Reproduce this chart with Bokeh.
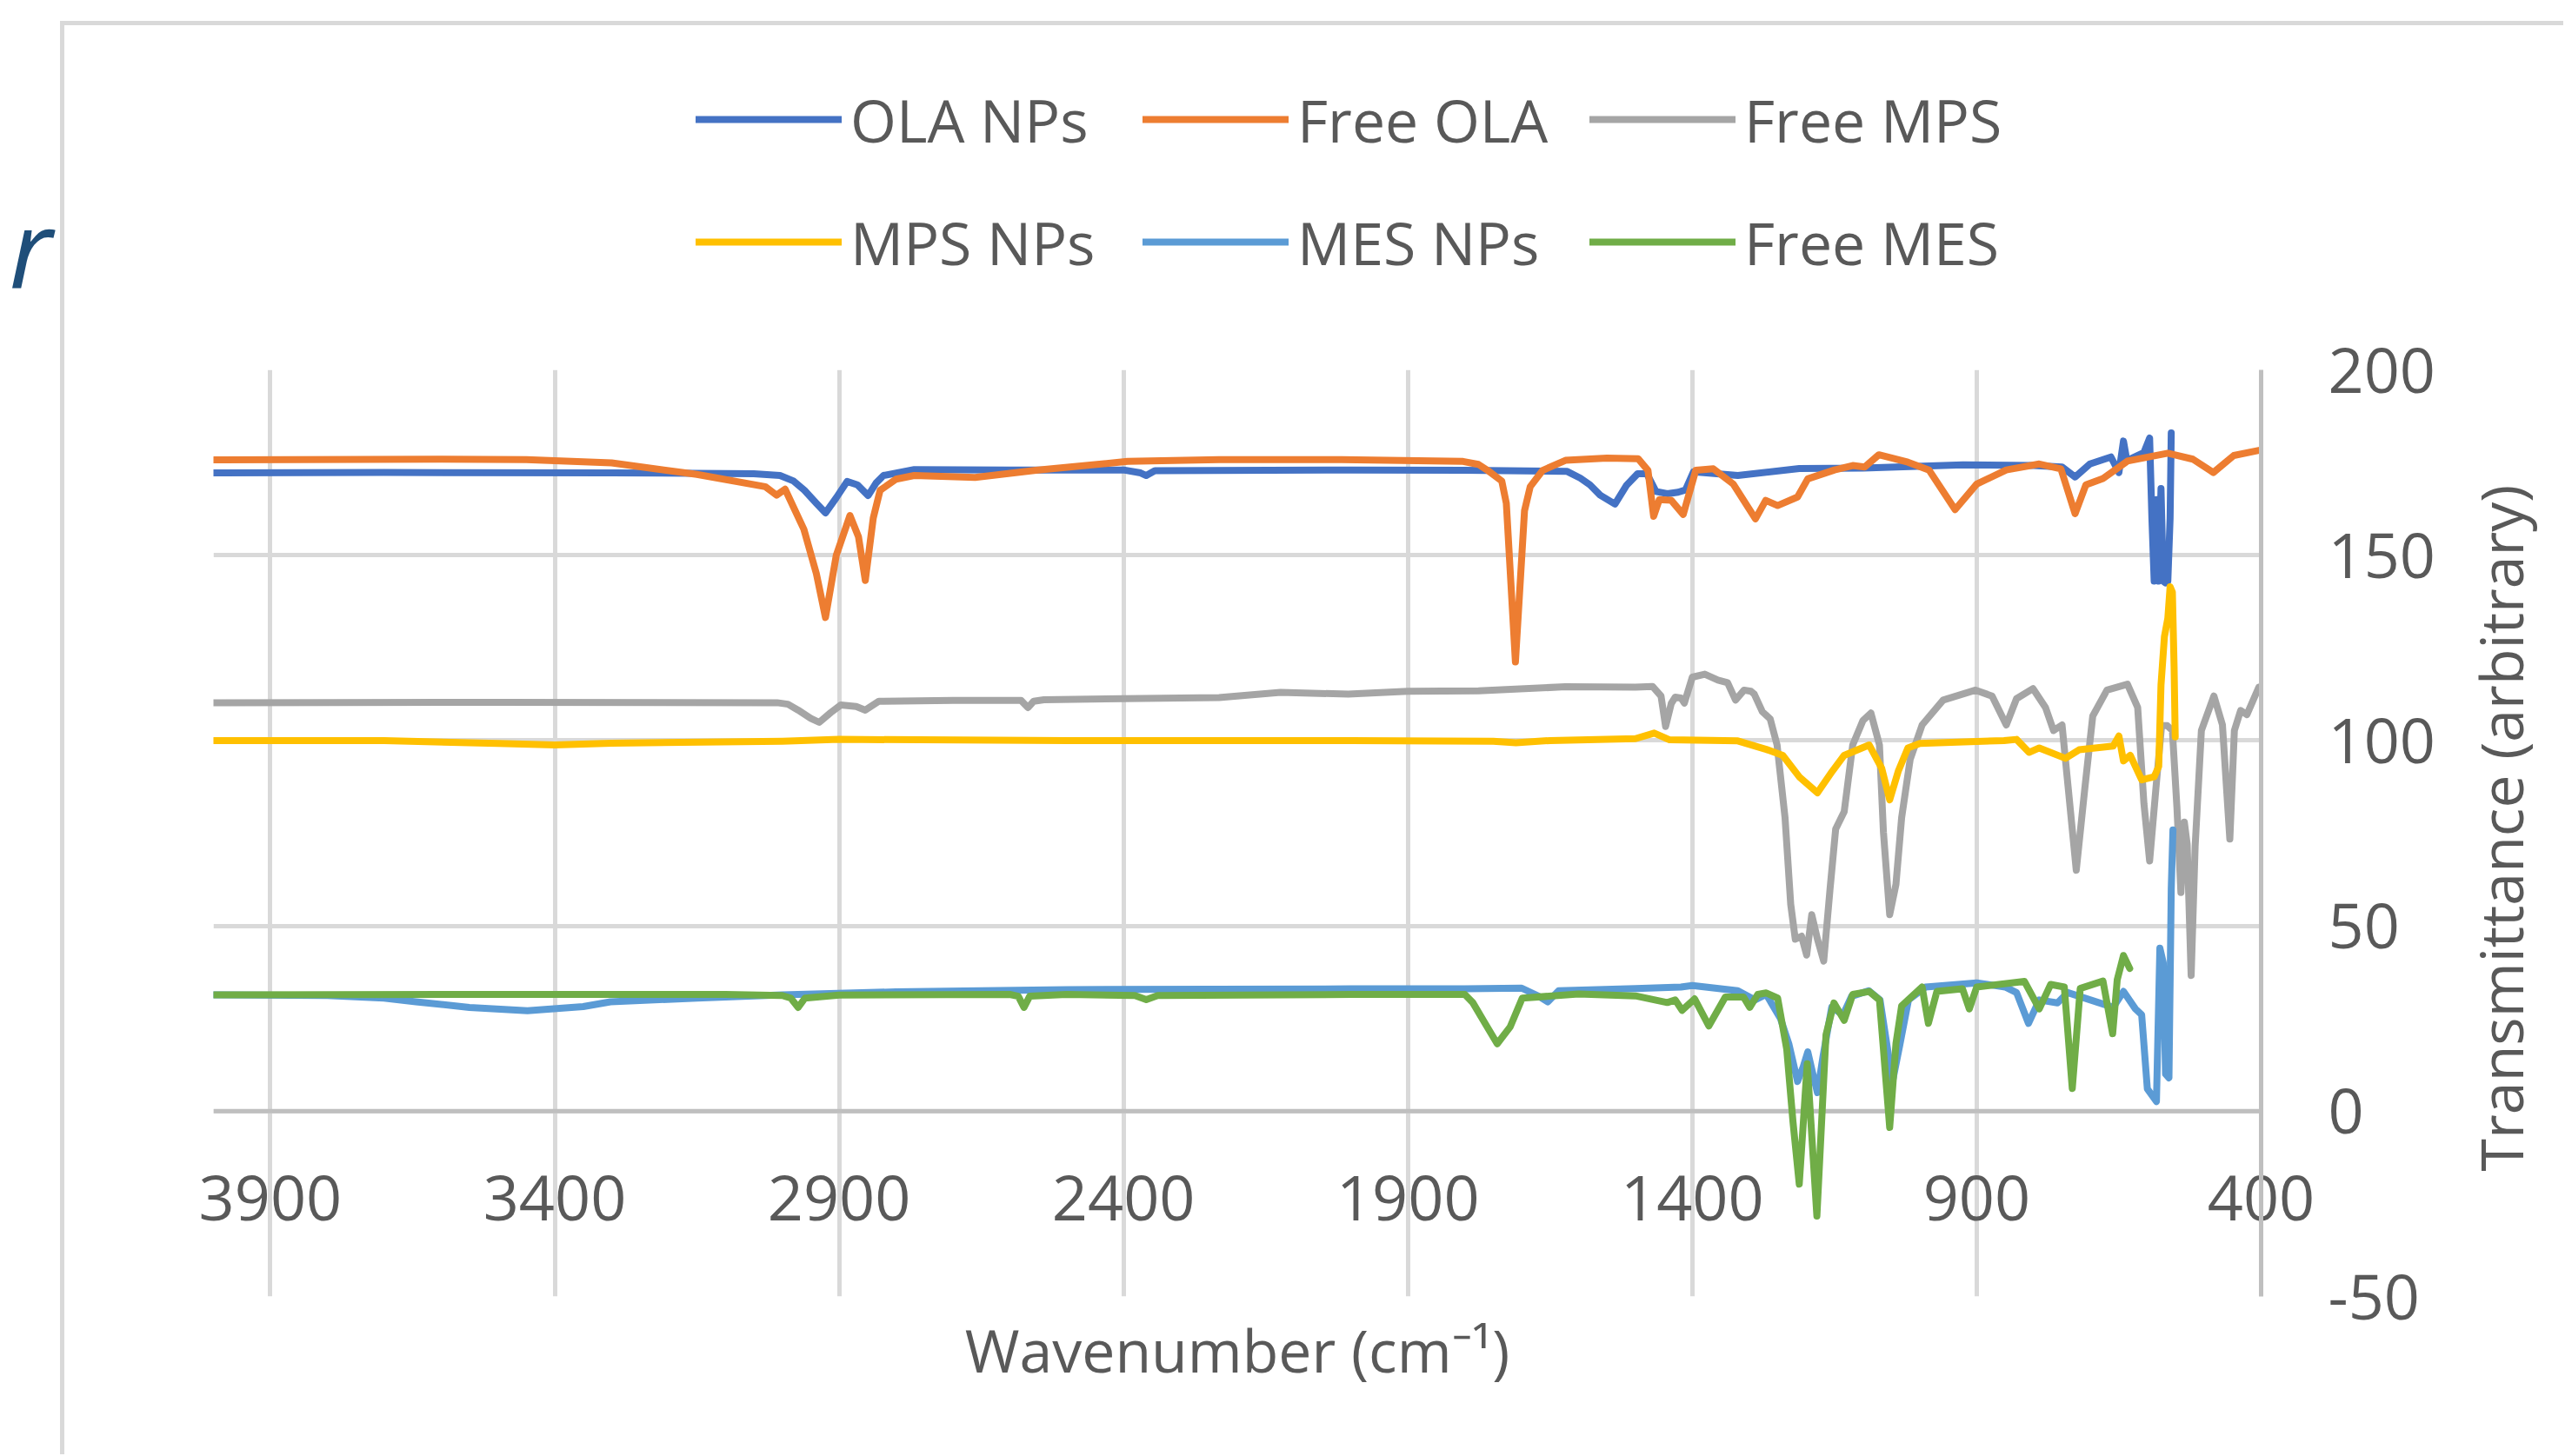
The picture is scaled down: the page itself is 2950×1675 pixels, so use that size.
import math
from bokeh.plotting import figure
from bokeh.layouts import column, row
from bokeh.models import Range1d, FixedTicker, Legend, LegendItem, Label, Span
from bokeh.embed import file_html
from bokeh.resources import INLINE

# ---------------- data ----------------
series_names = ["OLA NPs", "Free OLA", "Free MPS", "MPS NPs", "MES NPs", "Free MES"]
series_colors = ["#4472C4", "#ED7D31", "#A5A5A5", "#FFC000", "#5B9BD5", "#70AD47"]

x_ticks = [3900, 3400, 2900, 2400, 1900, 1400, 900, 400]
y_ticks = [-50, 0, 50, 100, 150, 200]

ola_nps_wn = [4000, 3700, 3300, 3050, 3004, 2980, 2961, 2940, 2924, 2905, 2886, 2868, 2849, 2835,
              2822, 2768, 2600, 2400, 2370, 2360, 2345, 2000, 1800, 1620, 1597, 1580, 1562, 1536,
              1516, 1496, 1480, 1464, 1444, 1425, 1412, 1398, 1320, 1212, 1100, 924, 800, 750, 727,
              701, 664, 650, 642, 636, 606, 596, 592, 588, 584, 580, 576, 572, 568, 564, 560, 558]
ola_nps_t = [172.2, 172.3, 172.2, 172.0, 171.5, 170.0, 167.5, 164.0, 161.4, 165.5, 169.9, 169.0,
             166.1, 169.5, 171.5, 173.1, 173.0, 173.0, 172.2, 171.5, 172.8, 173.0, 172.9, 172.6,
             170.8, 169.0, 166.2, 163.8, 168.8, 172.0, 172.0, 167.2, 166.6, 167.0, 167.6, 172.5,
             171.5, 173.4, 173.5, 174.4, 174.2, 173.8, 171.1, 174.6, 176.5, 172.3, 180.8, 175.5,
             177.7, 181.6, 160.0, 143.0, 165.0, 143.0, 168.0, 143.0, 142.5, 143.0, 160.0, 183.0]

free_ola_wn = [4000, 3600, 3450, 3300, 3150, 3030, 3010, 2995, 2962, 2940, 2924, 2905, 2881, 2866,
               2854, 2840, 2828, 2800, 2768, 2661, 2554, 2393, 2232, 2017, 1803, 1776, 1760, 1735,
               1727, 1711, 1695, 1685, 1663, 1623, 1550, 1495, 1478, 1468, 1458, 1437, 1416, 1394,
               1363, 1328, 1289, 1271, 1250, 1215, 1197, 1150, 1118, 1097, 1072, 1021, 984, 938,
               900, 848, 790, 752, 727, 708, 678, 635, 564, 520, 484, 448, 400]
free_ola_t = [175.7, 175.9, 175.8, 174.9, 171.8, 168.5, 166.2, 167.8, 157.0, 145.0, 133.2, 150.0,
              160.7, 155.0, 143.2, 160.0, 167.5, 170.5, 171.5, 171.0, 172.9, 175.3, 175.8, 175.8,
              175.3, 174.5, 172.9, 170.0, 164.0, 121.2, 162.0, 168.5, 172.9, 175.6, 176.2, 176.0,
              172.9, 160.5, 165.0, 164.8, 161.0, 172.9, 173.3, 169.2, 159.8, 164.8, 163.4, 165.7,
              170.6, 173.0, 174.2, 173.8, 177.1, 175.1, 173.0, 162.3, 169.2, 173.0, 174.6, 173.3,
              161.2, 169.0, 170.7, 175.4, 177.5, 175.9, 172.3, 176.9, 178.4]

free_mps_wn = [4000, 3500, 3009, 2990, 2972, 2950, 2935, 2915, 2897, 2870, 2854, 2830, 2700, 2580,
               2568, 2558, 2540, 2232, 2124, 2005, 1900, 1776, 1623, 1500, 1470, 1455, 1447, 1437,
               1430, 1420, 1414, 1400, 1378, 1355, 1338, 1324, 1309, 1297, 1291, 1277, 1263, 1251,
               1237, 1227, 1219, 1208, 1199, 1190, 1180, 1169, 1158, 1148, 1133, 1118, 1100, 1086,
               1071, 1064, 1053, 1042, 1032, 1017, 996, 959, 902, 873, 848, 830, 801, 779, 765, 750,
               739, 725, 710, 696, 671, 635, 617, 606, 596, 585, 575, 565, 556, 548, 541, 535, 530,
               523, 516, 505, 483, 468, 455, 447, 436, 425, 404, 400]
free_mps_t = [110.2, 110.3, 110.2, 109.8, 108.2, 106.0, 104.9, 107.5, 109.6, 109.2, 108.2, 110.6,
              110.8, 110.8, 108.9, 110.6, 111.0, 111.6, 113.0, 112.5, 113.3, 113.4, 114.5, 114.4,
              114.6, 112.0, 103.8, 110.0, 111.7, 111.5, 110.1, 117.1, 117.9, 116.3, 115.6, 110.9,
              113.6, 113.3, 112.5, 107.8, 105.8, 98.8, 79.2, 55.8, 46.4, 47.2, 42.1, 53.0, 46.4,
              40.5, 59.7, 76.1, 80.8, 98.8, 105.4, 107.4, 98.8, 75.3, 53.0, 61.2, 79.2, 94.9, 104.2,
              110.9, 113.6, 112.0, 104.2, 111.3, 114.0, 108.9, 102.7, 104.2, 87.0, 65.0, 87.0,
              106.6, 113.6, 115.2, 108.9, 83.0, 67.5, 87.0, 104.0, 104.0, 102.7, 82.0, 59.0, 78.0,
              72.0, 36.6, 71.4, 102.7, 112.0, 104.2, 73.4, 102.7, 108.1, 107.0, 114.4, 114.5]

mps_nps_wn = [4000, 3700, 3500, 3400, 3300, 3000, 2900, 2500, 2000, 1750, 1710, 1650, 1500, 1467,
              1440, 1320, 1270, 1241, 1212, 1180, 1154, 1133, 1089, 1067, 1053, 1038, 1021, 1000,
              852, 830, 808, 790, 744, 720, 660, 650, 642, 630, 610, 588, 580, 576, 570, 564, 560,
              556, 553, 551]
mps_nps_t = [100.0, 100.0, 99.2, 98.8, 99.3, 99.8, 100.3, 100.0, 100.0, 99.8, 99.4, 100.0, 100.5,
             102.0, 100.2, 99.9, 97.6, 96.0, 90.2, 85.9, 91.7, 96.0, 98.8, 92.5, 84.0, 91.7, 98.0,
             99.2, 100.0, 100.3, 96.8, 98.0, 95.2, 97.5, 98.5, 101.2, 94.5, 96.0, 89.4, 90.2, 93.0,
             115.0, 128.0, 133.0, 141.5, 140.0, 120.0, 101.0]

mes_nps_wn = [4000, 3800, 3700, 3644, 3550, 3448, 3350, 3302, 3150, 3000, 2800, 2500, 2000, 1800,
              1700, 1670, 1654, 1635, 1500, 1420, 1400, 1320, 1290, 1270, 1245, 1230, 1215, 1205,
              1197, 1188, 1180, 1170, 1155, 1135, 1120, 1090, 1070, 1060, 1048, 1035, 1020, 990,
              900, 850, 830, 809, 790, 758, 740, 700, 660, 642, 621, 610, 600, 584, 578, 572, 568,
              562, 558, 555]
mes_nps_t = [31.4, 31.2, 30.5, 29.5, 28.0, 27.1, 28.2, 29.5, 30.5, 31.4, 32.2, 32.8, 33.0, 33.0,
             33.2, 31.0, 29.5, 32.5, 33.1, 33.5, 33.9, 32.5, 30.0, 31.5, 25.0, 18.0, 8.0, 12.0,
             16.0, 10.0, 5.0, 15.0, 28.0, 26.0, 31.0, 32.5, 30.0, 20.0, 8.0, 18.0, 30.0, 33.5,
             34.6, 33.5, 32.0, 23.7, 30.0, 29.2, 32.0, 30.0, 28.0, 32.3, 27.6, 26.0, 6.0, 2.6,
             44.0, 40.0, 10.0, 9.0, 60.0, 75.9]

free_mes_wn = [4000, 3500, 3100, 3000, 2985, 2972, 2960, 2900, 2600, 2585, 2575, 2565, 2500, 2380,
               2360, 2340, 2000, 1800, 1786, 1766, 1743, 1720, 1699, 1600, 1500, 1444, 1430, 1418,
               1396, 1371, 1342, 1310, 1299, 1285, 1270, 1250, 1234, 1223, 1212, 1198, 1181, 1165,
               1151, 1133, 1118, 1089, 1071, 1064, 1053, 1042, 1032, 996, 985, 970, 925, 913, 900,
               816, 790, 770, 746, 732, 718, 678, 661, 653, 642, 631]
free_mes_t = [31.4, 31.5, 31.5, 31.2, 30.5, 28.0, 30.5, 31.3, 31.5, 31.0, 28.0, 31.0, 31.5, 31.2,
              30.1, 31.2, 31.5, 31.5, 29.3, 24.1, 18.2, 22.8, 30.5, 31.6, 31.1, 29.3, 30.0, 27.2,
              30.3, 23.0, 30.8, 30.8, 28.0, 31.5, 31.9, 30.5, 16.7, -2.9, -19.7, 12.8, -28.3, 20.6,
              29.2, 24.5, 31.5, 32.3, 30.0, 16.7, -4.4, 18.2, 28.4, 33.5, 23.7, 32.3, 33.0, 27.6,
              33.5, 35.0, 27.6, 34.2, 33.5, 6.1, 33.1, 35.1, 20.9, 35.4, 42.0, 38.5]

x_title = "Wavenumber (cm\u207b\u00b9)"
y_title = "Transmittance (arbitrary)"

all_wn = [ola_nps_wn, free_ola_wn, free_mps_wn, mps_nps_wn, mes_nps_wn, free_mes_wn]
all_t = [ola_nps_t, free_ola_t, free_mps_t, mps_nps_t, mes_nps_t, free_mes_t]

# ---------------- layout constants (page pixels) ----------------
FONT = "Open Sans"
TXT = "#595959"
LW = 8
W_ALL, H_ALL = 2948, 1673
LS = 80                           # left strip (slide border + text fragment)
TOP_H = 340                       # strip holding the legend
YT_X = 2820                       # page x where the y-title strip starts
FL, FR, FT, FB = 245, 2600, 425, 1491   # plot frame edges in page pixels
H_MAIN = H_ALL - TOP_H
MAIN_W = YT_X - LS

def free_frame(fig):
    try:
        fig.frame_align = False
        return True
    except Exception:
        return False

def bare(fig):
    fig.title.visible = False
    fig.grid.visible = False
    fig.outline_line_color = None
    fig.background_fill_color = None
    fig.border_fill_color = None

def strip(width, height):
    f = figure(width=width, height=height, x_range=Range1d(0, 1), y_range=Range1d(0, 1),
               x_axis_location=None, y_axis_location=None,
               output_backend="svg", toolbar_location=None,
               min_border_left=0, min_border_right=0, min_border_top=0, min_border_bottom=0)
    ok = free_frame(f)
    bare(f)
    return f, ok

# ---------------- left strip: slide border and text fragment ----------------
left, _ = strip(LS, H_ALL)
left.styles = {
    "background-image": "linear-gradient(#D9D9D9,#D9D9D9), linear-gradient(#D9D9D9,#D9D9D9)",
    "background-position": "69px 24px, 69px 24px",
    "background-size": "5px 100%, 100% 5px",
    "background-repeat": "no-repeat",
}
left.add_layout(Label(x=10, y=H_ALL - 283, x_units="screen", y_units="screen", text="r",
                      text_align="left", text_baseline="alphabetic", text_font=FONT,
                      text_font_size="125px", text_font_style="italic", text_color="#1F4E79"))

# ---------------- top strip: legend ----------------
top, top_free = strip(W_ALL - LS, TOP_H)
top.styles = {
    "background-image": "linear-gradient(#D9D9D9,#D9D9D9)",
    "background-position": "0px 24px",
    "background-size": "100% 5px",
    "background-repeat": "no-repeat",
}
# same series again; the strip's ranges keep them out of view, they only feed the legend
legend_glyphs = [top.line(wn, t, line_color=c, line_width=LW, line_cap="round")
                 for wn, t, c in zip(all_wn, all_t, series_colors)]

ITEM_H = 110

def make_legend(idx, row_center_y):
    items = [LegendItem(label=series_names[i], renderers=[legend_glyphs[i]]) for i in idx]
    bottom = TOP_H - (row_center_y + ITEM_H // 2)
    return Legend(items=items, location=(800 - LS, bottom), orientation="horizontal",
                  border_line_color=None, background_fill_alpha=0, padding=0, margin=0,
                  spacing=16, glyph_width=168, glyph_height=ITEM_H, label_height=ITEM_H,
                  label_width=320, label_standoff=10, label_text_font=FONT,
                  label_text_font_size="68px", label_text_color=TXT)

top.add_layout(make_legend([0, 1, 2], 137))
top.add_layout(make_legend([3, 4, 5], 278))

# ---------------- main chart ----------------
p = figure(width=MAIN_W, height=H_MAIN,
           x_range=Range1d(4000, 400), y_range=Range1d(-50, 200),
           y_axis_location="right",
           output_backend="svg", toolbar_location=None,
           min_border_left=FL - LS, min_border_right=YT_X - FR,
           min_border_top=FT - TOP_H, min_border_bottom=H_ALL - FB)
free_frame(p)
p.title.visible = False
p.outline_line_color = None
p.background_fill_color = "white"
p.border_fill_color = None

p.xgrid.ticker = FixedTicker(ticks=x_ticks)
p.ygrid.ticker = FixedTicker(ticks=y_ticks)
for g in (p.xgrid, p.ygrid):
    g.grid_line_color = "#D9D9D9"
    g.grid_line_width = 5

# horizontal axis line crossing at 0
p.add_layout(Span(location=0, dimension="width", line_color="#BFBFBF", line_width=5,
                  level="underlay"))

xa = p.xaxis[0]
xa.ticker = FixedTicker(ticks=x_ticks)
xa.axis_line_color = None
xa.major_tick_line_color = None
xa.minor_tick_line_color = None
xa.major_tick_out = 0
xa.major_tick_in = 0
xa.major_label_standoff = -140
xa.major_label_text_font = FONT
xa.major_label_text_font_size = "72px"
xa.major_label_text_color = TXT
xa.axis_label = x_title
xa.axis_label_text_font = FONT
xa.axis_label_text_font_size = "68px"
xa.axis_label_text_font_style = "normal"
xa.axis_label_text_color = TXT
xa.axis_label_standoff = 99

ya = p.yaxis[0]
ya.ticker = FixedTicker(ticks=y_ticks)
ya.axis_line_color = "#BFBFBF"
ya.axis_line_width = 5
ya.major_tick_line_color = None
ya.minor_tick_line_color = None
ya.major_tick_out = 0
ya.major_tick_in = 0
ya.major_label_standoff = 77
ya.major_label_text_font = FONT
ya.major_label_text_font_size = "72px"
ya.major_label_text_color = TXT
ya.major_label_overrides = {-50: "-50"}

for wn, t, c in zip(all_wn, all_t, series_colors):
    p.line(wn, t, line_color=c, line_width=LW, line_join="round", line_cap="round")

# ---------------- y-axis title strip ----------------
ytf, yt_free = strip(W_ALL - YT_X, H_MAIN)
yt_bottom = H_ALL if yt_free else FB
ytf.add_layout(Label(x=2875 - YT_X, y=yt_bottom - 952, x_units="screen", y_units="screen",
                     text=y_title, angle=math.pi / 2, text_align="center",
                     text_baseline="middle", text_font=FONT, text_font_size="68px",
                     text_color=TXT))

page = row(left, column(top, row(p, ytf, spacing=0), spacing=0), spacing=0)
open("out.html", "w").write(file_html(page, INLINE))
